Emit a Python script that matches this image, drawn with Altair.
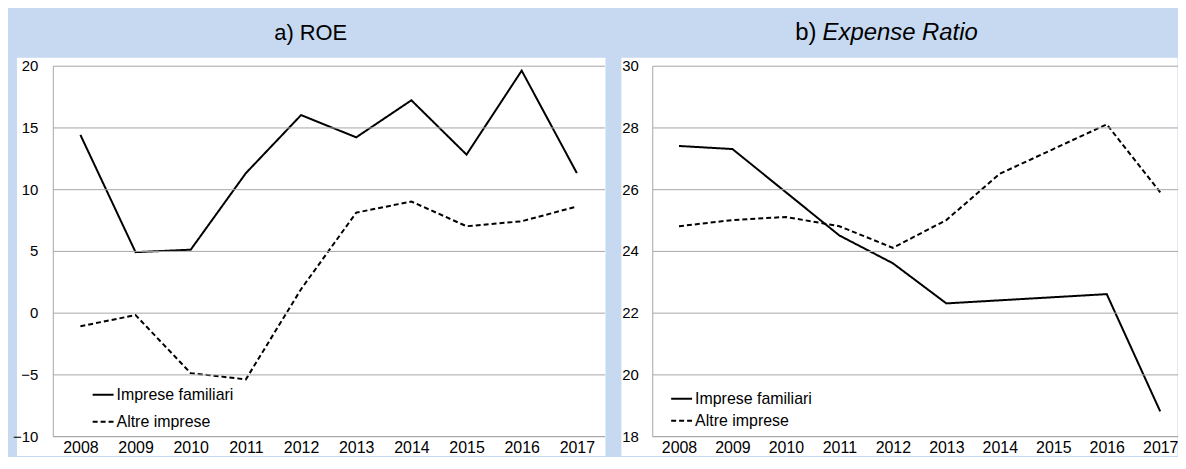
import altair as alt
import pandas as pd

# ---- data ----
anni = [2008, 2009, 2010, 2011, 2012, 2013, 2014, 2015, 2016, 2017]
serie = ["Imprese familiari", "Altre imprese"]
roe_familiari = [14.4, 4.9, 5.1, 11.3, 16.0, 14.2, 17.2, 12.8, 19.6, 11.3]
roe_altre = [-1.1, -0.2, -4.9, -5.4, 1.9, 8.1, 9.0, 7.0, 7.4, 8.6]
er_familiari = [27.4, 27.3, 25.9, 24.5, 23.6, 22.3, 22.4, 22.5, 22.6, 18.8]
er_altre = [24.8, 25.0, 25.1, 24.8, 24.1, 25.0, 26.5, 27.3, 28.1, 25.9]
roe_ticks = [-10, -5, 0, 5, 10, 15, 20]
er_ticks = [18, 20, 22, 24, 26, 28, 30]
titolo_a = ["a) ROE"]
titolo_b_pre = ["b)"]
titolo_b_it = ["Expense Ratio"]

BLUE = "#C6D9F1"
GRID = "#A6A6A6"
FONT = "Liberation Sans"
H = 372      # plot height
TOP = 57     # band + white margin above the plot
BOT = 20     # white below the plot


def long_df(fam, altre):
    rows = []
    for i, a in enumerate(anni):
        rows.append({"anno": a, "serie": serie[0], "valore": fam[i]})
    for i, a in enumerate(anni):
        rows.append({"anno": a, "serie": serie[1], "valore": altre[i]})
    return pd.DataFrame(rows)


def panel(df, ticks, width, x_hi, left_ext, right_ext, label_pad, leg_x, leg_y, row_pad, titles):
    one = pd.DataFrame({"k": [0]})
    band = alt.Chart(one).mark_rect(color=BLUE, clip=False).encode(
        x=alt.value(-left_ext), x2=alt.value(width + right_ext),
        y=alt.value(-TOP), y2=alt.value(-8))
    white = alt.Chart(one).mark_rect(color="white", clip=False).encode(
        x=alt.value(-left_ext), x2=alt.value(width + right_ext),
        y=alt.value(-8), y2=alt.value(H + BOT))
    lines = alt.Chart(df).mark_line(color="black", strokeWidth=2).encode(
        x=alt.X("anno:Q",
                scale=alt.Scale(domain=[2007.5, x_hi], nice=False, zero=False),
                axis=alt.Axis(values=anni, format="d", title=None, grid=False,
                              ticks=False, domainColor=GRID, labelFontSize=16,
                              labelFont=FONT, labelColor="black", labelPadding=3,
                              zindex=1)),
        y=alt.Y("valore:Q",
                scale=alt.Scale(domain=[ticks[0], ticks[-1]], nice=False, zero=False),
                axis=alt.Axis(values=ticks, title=None, grid=True, gridColor=GRID,
                              ticks=False, domainColor=GRID, labelFontSize=15,
                              labelFont=FONT, labelColor="black",
                              labelPadding=label_pad, zindex=1)),
        strokeDash=alt.StrokeDash(
            "serie:N",
            scale=alt.Scale(domain=serie, range=[[1, 0], [5, 3]]),
            legend=alt.Legend(title=None, orient="none", legendX=leg_x, legendY=leg_y,
                              symbolType="stroke", symbolSize=441,
                              symbolStrokeWidth=2, symbolStrokeColor="black",
                              labelFontSize=16, labelFont=FONT, labelColor="black",
                              labelOffset=2, rowPadding=row_pad, padding=0)),
    )
    layers = [band, white, lines] + titles
    return alt.layer(*layers).properties(width=width, height=H)


def title_text(txt, x, align, size, italic=False):
    d = pd.DataFrame({"t": txt})
    return alt.Chart(d).mark_text(
        font=FONT, fontSize=size, color="black", align=align, baseline="middle",
        fontStyle="italic" if italic else "normal").encode(
        text="t:N", x=alt.value(x), y=alt.value(-33))


RW = 527.5
left = panel(long_df(roe_familiari, roe_altre), roe_ticks, 554, 2017.5, 36, 1, 15, 39, 319, 7,
             [title_text(titolo_a, 259, "center", 22)])
right = panel(long_df(er_familiari, er_altre), er_ticks, RW, 2007.5 + RW / 53.7, 31, 0, 14, 18, 323, 2,
              [title_text(titolo_b_pre, 165, "right", 24),
               title_text(titolo_b_it, 171, "left", 24, italic=True)])

chart = alt.hconcat(left, right, spacing=16).resolve_legend(
    strokeDash="independent").properties(
    background=BLUE,
    padding={"left": 4, "top": 0, "right": 0, "bottom": 0},
).configure_view(stroke=None)

chart.save("out.html", embed_options={"renderer": "svg", "actions": False})
